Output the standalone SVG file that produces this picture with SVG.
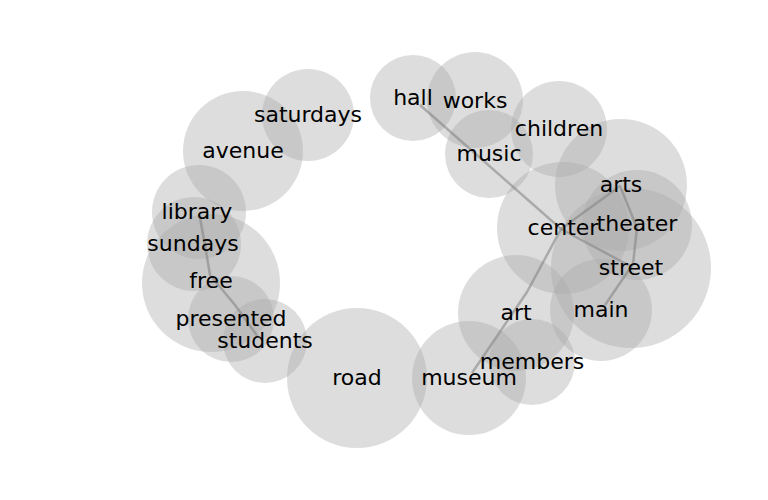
<svg xmlns="http://www.w3.org/2000/svg" width="768" height="500" viewBox="0 0 768 500">
<style>
.b{fill:#a9a9a9;fill-opacity:0.4;stroke:none}
.t{font-family:"DejaVu Sans",sans-serif;font-size:22px;fill:#000;text-anchor:middle}
.l{fill:none;stroke:#808080;stroke-opacity:0.55;stroke-width:2.5;stroke-linejoin:round}
</style>
<rect width="768" height="500" fill="#fff"/>
<g id="bubbles">
<g id="n-saturdays"><circle class="b" cx="308" cy="115" r="46"/></g>
<g id="n-avenue"><circle class="b" cx="243" cy="151" r="60"/></g>
<g id="n-hall"><circle class="b" cx="413" cy="98" r="43"/></g>
<g id="n-works"><circle class="b" cx="475" cy="100" r="48"/></g>
<g id="n-children"><circle class="b" cx="559" cy="129" r="48"/></g>
<g id="n-music"><circle class="b" cx="489" cy="154" r="44"/></g>
<g id="n-arts"><circle class="b" cx="621" cy="185" r="66"/></g>
<g id="n-center"><circle class="b" cx="563" cy="228" r="66"/></g>
<g id="n-theater"><circle class="b" cx="637" cy="225" r="55"/></g>
<g id="n-street"><circle class="b" cx="631" cy="268" r="80"/></g>
<g id="n-main"><circle class="b" cx="601" cy="310" r="51"/></g>
<g id="n-art"><circle class="b" cx="516" cy="313" r="58"/></g>
<g id="n-members"><circle class="b" cx="532" cy="362" r="43"/></g>
<g id="n-museum"><circle class="b" cx="469" cy="378" r="57"/></g>
<g id="n-road"><circle class="b" cx="357" cy="378" r="70"/></g>
<g id="n-students"><circle class="b" cx="265" cy="341" r="42"/></g>
<g id="n-presented"><circle class="b" cx="231" cy="319" r="43"/></g>
<g id="n-free"><circle class="b" cx="211" cy="283" r="69"/></g>
<g id="n-sundays"><circle class="b" cx="194" cy="244" r="47"/></g>
<g id="n-library"><circle class="b" cx="199" cy="212" r="47"/></g>
</g>
<g id="connectors">
<polyline class="l" points="420,105 561,229 630,266"/>
<polyline class="l" points="561,229 620,186 637,228 633,264 605,305"/>
<polyline class="l" points="561,229 527,292 472,373"/>
<polyline class="l" points="200,218 205,245 210,275 235,305 258,337"/>
</g>
<g id="labels">
<text class="t" x="308" y="122">saturdays</text>
<text class="t" x="243" y="158">avenue</text>
<text class="t" x="413" y="105">hall</text>
<text class="t" x="475" y="108">works</text>
<text class="t" x="559" y="136">children</text>
<text class="t" x="489" y="161">music</text>
<text class="t" x="621" y="192">arts</text>
<text class="t" x="563" y="235">center</text>
<text class="t" x="637" y="231">theater</text>
<text class="t" x="631" y="275">street</text>
<text class="t" x="601" y="317">main</text>
<text class="t" x="516" y="320">art</text>
<text class="t" x="532" y="369">members</text>
<text class="t" x="469" y="385">museum</text>
<text class="t" x="357" y="385">road</text>
<text class="t" x="265" y="348">students</text>
<text class="t" x="231" y="326">presented</text>
<text class="t" x="211" y="288">free</text>
<text class="t" x="193" y="251">sundays</text>
<text class="t" x="197" y="219">library</text>
</g>
</svg>
